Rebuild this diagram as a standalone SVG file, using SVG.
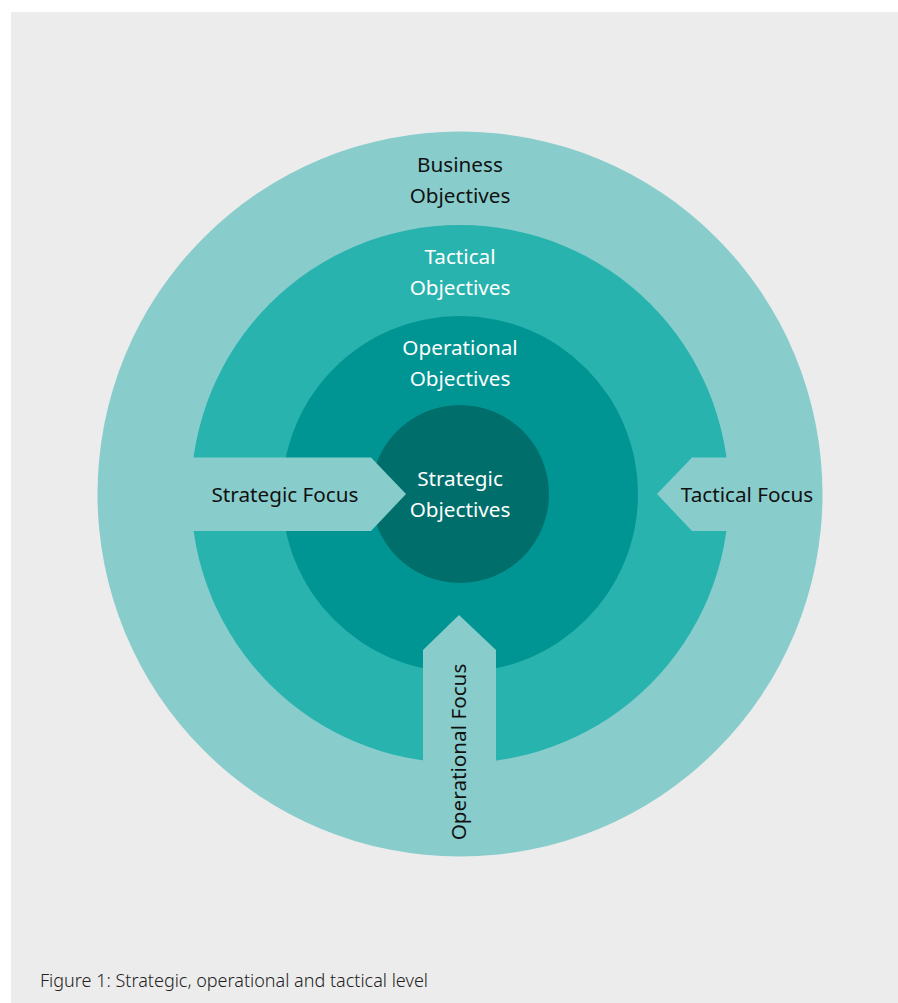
<svg xmlns="http://www.w3.org/2000/svg" width="898" height="1003" viewBox="0 0 898 1003">
  <style>
    .lbl { font-family: "Noto Sans", "Open Sans", sans-serif; font-size: 20.7px; text-anchor: middle; }
    .dark { fill: #111111; }
    .light { fill: #ffffff; }
    .cap { font-family: "Noto Sans", "Open Sans", sans-serif; font-size: 18px; fill: #222222; font-weight: 300; }
    .c-outer { fill: #88cdcc; }
    .c-tact { fill: #28b3ae; }
    .c-oper { fill: #009593; }
    .c-strat { fill: #006f6c; }
  </style>
  <!-- page panel -->
  <rect x="0" y="0" width="898" height="1003" fill="#ffffff"/>
  <rect x="11" y="12" width="887" height="991" fill="#ececec"/>

  <!-- concentric objective levels -->
  <g id="business-objectives">
    <circle class="c-outer" cx="460" cy="494" r="362.5"/>
    <text class="lbl dark" x="460" y="172">Business</text>
    <text class="lbl dark" x="460" y="203">Objectives</text>
  </g>
  <g id="tactical-objectives">
    <circle class="c-tact" cx="460" cy="494" r="269"/>
    <text class="lbl light" x="460" y="264">Tactical</text>
    <text class="lbl light" x="460" y="295">Objectives</text>
  </g>
  <g id="operational-objectives">
    <circle class="c-oper" cx="460" cy="494" r="178"/>
    <text class="lbl light" x="460" y="355">Operational</text>
    <text class="lbl light" x="460" y="386">Objectives</text>
  </g>
  <g id="strategic-objectives">
    <circle class="c-strat" cx="460" cy="494" r="89"/>
  </g>

  <!-- focus arrows cutting into the rings -->
  <g id="connectors">
    <polygon id="strategic-focus-arrow" class="c-outer" points="185,457.5 371,457.5 406,494 371,531 185,531"/>
    <polygon id="tactical-focus-arrow" class="c-outer" points="735,457.5 692,457.5 657,494 692,531 735,531"/>
    <polygon id="operational-focus-arrow" class="c-outer" points="423,780 423,650 459,615 496,650 496,780"/>
  </g>

  <g id="strategic-objectives-label">
    <text class="lbl light" x="460" y="486">Strategic</text>
    <text class="lbl light" x="460" y="517">Objectives</text>
  </g>
  <g id="strategic-focus">
    <text class="lbl dark" x="285" y="502">Strategic Focus</text>
  </g>
  <g id="tactical-focus">
    <text class="lbl dark" x="747" y="502">Tactical Focus</text>
  </g>
  <g id="operational-focus">
    <text class="lbl dark" transform="translate(466,752) rotate(-90)" x="0" y="0">Operational Focus</text>
  </g>

  <text class="cap" x="40" y="987">Figure 1: Strategic, operational and tactical level</text>
</svg>
